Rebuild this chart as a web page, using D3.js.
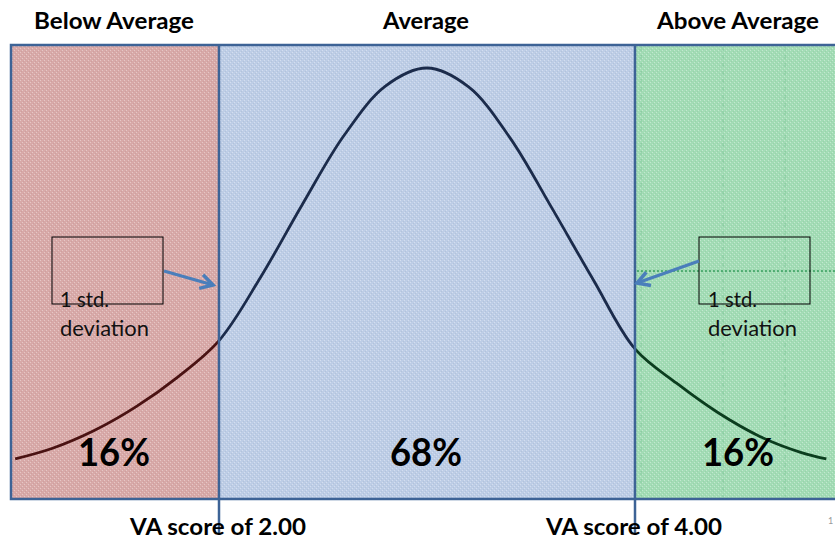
<!DOCTYPE html>
<html>
<head>
<meta charset="utf-8">
<script src="https://cdn.jsdelivr.net/npm/d3@7/dist/d3.min.js"></script>
<style>
  html, body { margin: 0; padding: 0; background: #ffffff; }
  svg { display: block; }
  text { font-family: Lato, "Open Sans", "Liberation Sans", sans-serif; }
</style>
</head>
<body>
<svg id="chart" width="835" height="542"></svg>
<script>
// ---- data ----
const categories = ["Below Average", "Average", "Above Average"];
const shares = [16, 68, 16];
const bandEdges = [1.0, 2.0, 4.0, 5.0];           // VA score boundaries of the three bands
const cutScores = [2.0, 4.0];
const cutLabels = ["VA score of 2.00", "VA score of 4.00"];
const curveScores  = [1.02, 1.2, 1.4, 1.6, 1.8, 2.0, 2.2, 2.4, 2.6, 2.8, 3.0, 3.2, 3.4, 3.6, 3.8, 4.0, 4.2, 4.4, 4.6, 4.8, 4.92];
const curveDensity = [0.008, 0.035, 0.080, 0.140, 0.215, 0.308, 0.469, 0.653, 0.828, 0.954, 1.0, 0.952, 0.822, 0.645, 0.462, 0.287, 0.200, 0.125, 0.065, 0.024, 0.008];
const noteText = ["1 std.", "deviation"];
const pageNumber = "1";

// ---- styles ----
const bandFill = ["#d8a9a8", "#bdcde6", "#a2dcb5"];
const curveColor = ["#4a1212", "#1b2b4b", "#0b3d1e"];
const borderColor = "#3d6396";
const arrowColor = "#4a7ebb";

const svg = d3.select("#chart");
const boxTop = 45, boxBottom = 499;

const x = d3.scaleLinear().domain([2, 4]).range([219, 635]);
const y = d3.scaleLinear().domain([0, 1]).range([462, 68]);

const defs = svg.append("defs");
// subtle dithered texture
bandFill.forEach((c, i) => {
  const p = defs.append("pattern").attr("id", "tex" + i)
    .attr("width", 4).attr("height", 4).attr("patternUnits", "userSpaceOnUse");
  p.append("rect").attr("width", 4).attr("height", 4).attr("fill", c);
  p.append("rect").attr("x", 0).attr("y", 0).attr("width", 1).attr("height", 1).attr("fill", "#ffffff").attr("opacity", 0.35);
  p.append("rect").attr("x", 2).attr("y", 2).attr("width", 1).attr("height", 1).attr("fill", "#ffffff").attr("opacity", 0.35);
  p.append("rect").attr("x", 1).attr("y", 3).attr("width", 1).attr("height", 1).attr("fill", "#000000").attr("opacity", 0.05);
  p.append("rect").attr("x", 3).attr("y", 1).attr("width", 1).attr("height", 1).attr("fill", "#000000").attr("opacity", 0.05);
});

const bands = categories.map((c, i) => ({ name: c, share: shares[i], x0: bandEdges[i], x1: bandEdges[i + 1], i }));

// band fills
svg.selectAll("rect.band").data(bands).enter().append("rect")
  .attr("class", "band")
  .attr("x", d => x(d.x0)).attr("y", boxTop)
  .attr("width", d => x(d.x1) - x(d.x0)).attr("height", boxBottom - boxTop)
  .attr("fill", d => `url(#tex${d.i})`);

// faint guide marks in green band
const g3 = bands[2];
svg.append("line")
  .attr("x1", x(g3.x0) + 2).attr("x2", x(g3.x1)).attr("y1", 271).attr("y2", 271)
  .attr("stroke", "#2f9a58").attr("stroke-width", 2).attr("stroke-dasharray", "2,2").attr("opacity", 0.7);
[641, 723, 785].forEach(px => {
  svg.append("line").attr("x1", px).attr("x2", px).attr("y1", boxTop + 2).attr("y2", boxBottom - 2)
    .attr("stroke", "#3aa062").attr("stroke-width", 1).attr("stroke-dasharray", "4,4").attr("opacity", 0.25);
});

// clip paths for curve colouring
bands.forEach(b => {
  defs.append("clipPath").attr("id", "clip" + b.i)
    .append("rect").attr("x", x(b.x0)).attr("y", 0).attr("width", x(b.x1) - x(b.x0)).attr("height", 542);
});

const pts = curveScores.map((s, i) => [s, curveDensity[i]]);
const line = d3.line().x(d => x(d[0])).y(d => y(d[1])).curve(d3.curveCatmullRom.alpha(0.5));
bands.forEach(b => {
  svg.append("path").attr("d", line(pts))
    .attr("fill", "none").attr("stroke", curveColor[b.i]).attr("stroke-width", 2.8)
    .attr("clip-path", `url(#clip${b.i})`);
});

// outer box
svg.append("rect")
  .attr("x", x(bandEdges[0])).attr("y", boxTop)
  .attr("width", x(bandEdges[3]) - x(bandEdges[0])).attr("height", boxBottom - boxTop)
  .attr("fill", "none").attr("stroke", borderColor).attr("stroke-width", 2.5);

// cut lines extend below box
svg.selectAll("line.cut").data(cutScores).enter().append("line")
  .attr("class", "cut")
  .attr("x1", d => x(d)).attr("x2", d => x(d))
  .attr("y1", boxTop).attr("y2", 534)
  .attr("stroke", borderColor).attr("stroke-width", 2.5);

// titles
const titleWidths = [160, 86, 162];
svg.selectAll("text.title").data(bands).enter().append("text")
  .attr("class", "title")
  .attr("x", d => (x(d.x0) + Math.min(x(d.x1), 843)) / 2 - 1)
  .attr("y", 29)
  .attr("text-anchor", "middle")
  .attr("font-weight", 700).attr("font-size", 22)
  .attr("textLength", (d, i) => titleWidths[i]).attr("lengthAdjust", "spacingAndGlyphs")
  .attr("fill", "#000")
  .text(d => d.name);

// share labels
svg.selectAll("text.share").data(bands).enter().append("text")
  .attr("class", "share")
  .attr("x", d => (x(d.x0) + x(d.x1)) / 2 - 1)
  .attr("y", 466)
  .attr("text-anchor", "middle")
  .attr("font-weight", 700).attr("font-size", 39)
  .attr("textLength", 72).attr("lengthAdjust", "spacingAndGlyphs")
  .attr("fill", "#000")
  .text(d => d.share + "%");

// cut labels
svg.selectAll("text.cutlab").data(cutScores).enter().append("text")
  .attr("class", "cutlab")
  .attr("x", d => x(d) - 1)
  .attr("y", 535)
  .attr("text-anchor", "middle")
  .attr("font-weight", 700).attr("font-size", 22)
  .attr("textLength", 176).attr("lengthAdjust", "spacingAndGlyphs")
  .attr("fill", "#000")
  .text((d, i) => cutLabels[i]);

// annotation boxes with arrows
defs.append("marker").attr("id", "arrow")
  .attr("viewBox", "0 0 10 10").attr("refX", 8.5).attr("refY", 5)
  .attr("markerWidth", 5.5).attr("markerHeight", 5.5).attr("orient", "auto")
  .attr("markerUnits", "strokeWidth")
  .append("path").attr("d", "M1.5,1 L8.5,5 L1.5,9")
  .attr("fill", "none").attr("stroke", arrowColor).attr("stroke-width", 2).attr("stroke-linejoin", "miter");

const notes = [
  { bx: 52, tx: 60, from: [164, 271], to: [213, 285] },
  { bx: 699, tx: 708, from: [699, 261], to: [637, 283] }
];
notes.forEach(n => {
  svg.append("rect").attr("x", n.bx).attr("y", 237).attr("width", 111).attr("height", 67)
    .attr("fill", "none").attr("stroke", "#000").attr("stroke-width", 1);
  svg.append("line").attr("x1", n.from[0]).attr("y1", n.from[1]).attr("x2", n.to[0]).attr("y2", n.to[1])
    .attr("stroke", arrowColor).attr("stroke-width", 3.2).attr("marker-end", "url(#arrow)");
  svg.append("text").attr("x", n.tx).attr("y", 307).attr("font-size", 21)
    .attr("textLength", 49).attr("lengthAdjust", "spacingAndGlyphs").attr("fill", "#111").text(noteText[0]);
  svg.append("text").attr("x", n.tx).attr("y", 336).attr("font-size", 21)
    .attr("textLength", 89).attr("lengthAdjust", "spacingAndGlyphs").attr("fill", "#111").text(noteText[1]);
});

// page number fragment
svg.append("text").attr("x", 828).attr("y", 524).attr("font-size", 9).attr("fill", "#999").text(pageNumber);
</script>
</body>
</html>
